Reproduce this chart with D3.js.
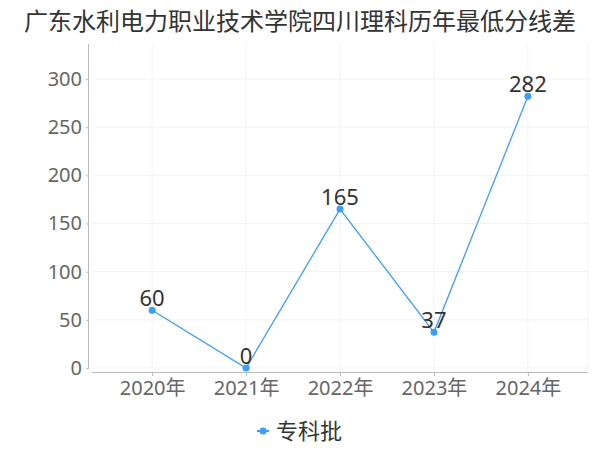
<!DOCTYPE html>
<html><head><meta charset="utf-8">
<script src="https://cdn.jsdelivr.net/npm/d3@7"></script>
<style>body{margin:0;background:#fff;} svg{display:block;font-family:"Noto Sans","Noto Sans CJK SC",sans-serif;}</style>
</head><body>
<svg id="c" width="600" height="450"></svg>
<script>
const title = "广东水利电力职业技术学院四川理科历年最低分线差";
const categories = ["2020年","2021年","2022年","2023年","2024年"];
const values = [60, 0, 165, 37, 282];
const seriesName = "专科批";
const yTicks = [0,50,100,150,200,250,300];

(function(){
const svg = d3.select("#c");
const color = "#3d9ef7";
const pL = 92, pR = 588, pT = 44, pB = 372;
const ff = '"Noto Sans","Noto Sans CJK SC",sans-serif';

const x = d3.scalePoint().domain(categories).range([pL, pR]).padding(0.64);
const y = d3.scaleLinear().domain([0, 300]).range([368, 79]);

svg.append("text").attr("x", 300).attr("y", 30).attr("text-anchor","middle")
  .attr("font-size", 24).attr("fill","#333").attr("font-family",'"Noto Sans CJK SC",sans-serif').text(title);

// grid
const g = svg.append("g");
g.selectAll("line.h").data(yTicks).enter().append("line")
  .attr("x1", pL).attr("x2", pR).attr("y1", d=>y(d)).attr("y2", d=>y(d))
  .attr("stroke","#f3f3f3").attr("stroke-width",1);
g.selectAll("line.v").data(categories).enter().append("line")
  .attr("x1", d=>x(d)).attr("x2", d=>x(d)).attr("y1", pT).attr("y2", pB)
  .attr("stroke","#f3f3f3");
g.append("line").attr("x1", pR).attr("x2", pR).attr("y1", pT).attr("y2", pB).attr("stroke","#f3f3f3");

// y axis
const ya = svg.append("g").attr("transform","translate(89,0)")
  .call(d3.axisLeft(y).tickValues(yTicks).tickSize(3).tickPadding(4));
ya.select(".domain").attr("stroke","#bbb").attr("d", `M-0.5,${pT}V${368}`);
ya.selectAll(".tick line").attr("stroke","#bbb");
ya.selectAll(".tick text").attr("font-size",20).attr("fill","#666").attr("font-family",ff);

// x axis
const xa = svg.append("g").attr("transform",`translate(0,${pB})`)
  .call(d3.axisBottom(x).tickSize(4).tickPadding(5));
xa.select(".domain").attr("stroke","#bbb").attr("d", `M${pL},0.5H${pR}`);
xa.selectAll(".tick line").attr("stroke","#bbb");
xa.selectAll(".tick text").attr("font-size",20).attr("fill","#666").attr("font-family",ff);

// line
const data = categories.map((c,i)=>({c, v: values[i]}));
svg.append("path").datum(data)
  .attr("d", d3.line().x(d=>x(d.c)).y(d=>y(d.v)))
  .attr("fill","none").attr("stroke",color).attr("stroke-width",1.3);
svg.selectAll("circle.p").data(data).enter().append("circle")
  .attr("cx", d=>x(d.c)).attr("cy", d=>y(d.v)).attr("r",3.5).attr("fill",color);
svg.selectAll("text.lbl").data(data).enter().append("text")
  .attr("x", d=>x(d.c)).attr("y", d=>y(d.v)-4).attr("text-anchor","middle")
  .attr("font-size",22).attr("fill","#333").attr("font-family",ff).text(d=>d.v);

// legend
svg.append("line").attr("x1",257).attr("x2",269).attr("y1",431).attr("y2",431).attr("stroke",color).attr("stroke-width",2);
svg.append("circle").attr("cx",263).attr("cy",431).attr("r",3.5).attr("fill",color);
svg.append("text").attr("x",276).attr("y",439).attr("font-size",22).attr("fill","#333").attr("font-family",'"Noto Sans CJK SC",sans-serif').text(seriesName);
})();
</script>
</body></html>
